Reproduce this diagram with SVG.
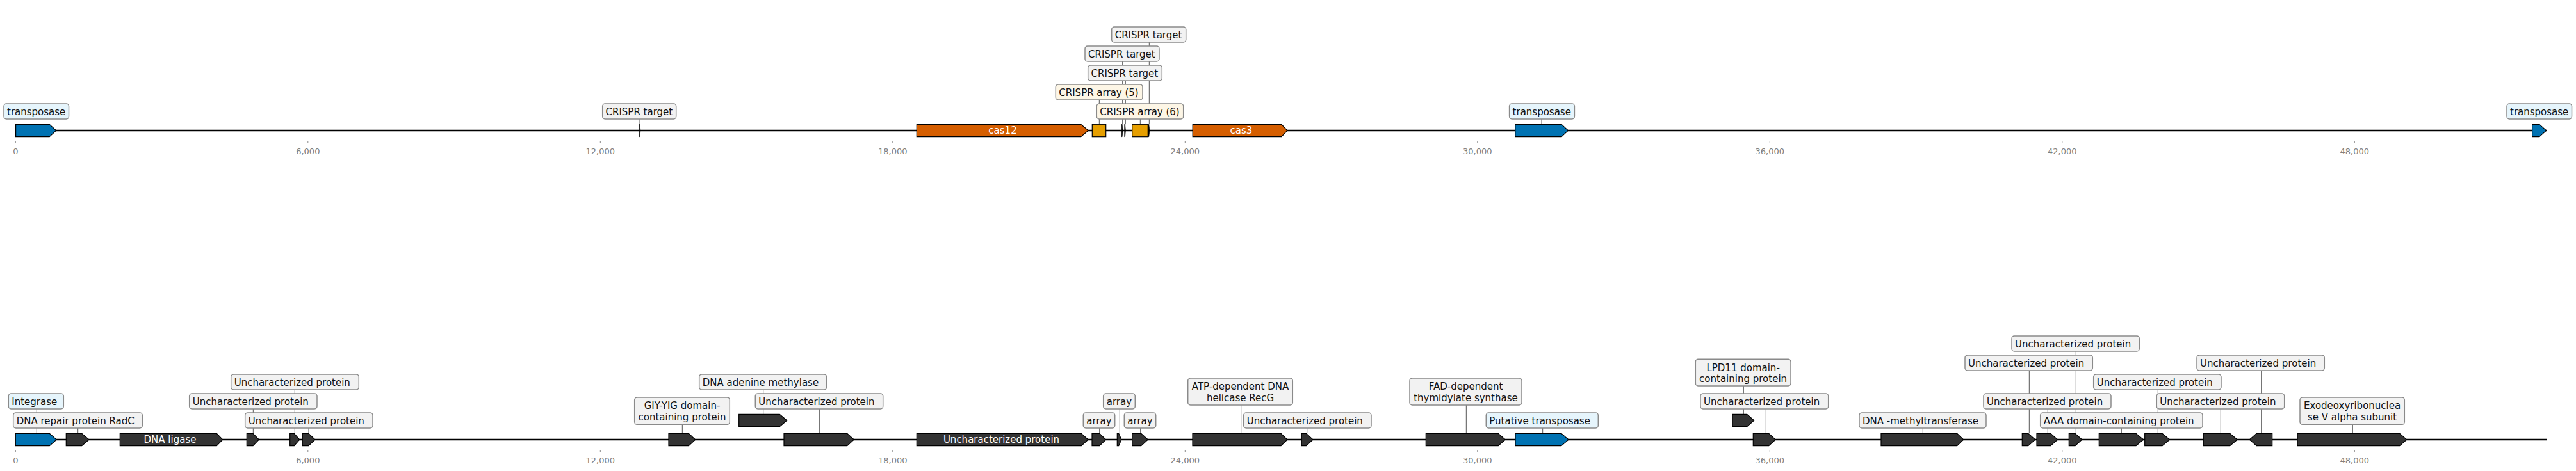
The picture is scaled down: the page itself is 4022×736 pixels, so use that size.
<svg xmlns="http://www.w3.org/2000/svg" width="4022" height="736" viewBox="0 0 4022 736">
<style>
.bg{fill:#fff}
.trk{stroke:#000;stroke-width:2.5;fill:none}
.tick{stroke:#888;stroke-width:1}
.tl{font-family:'DejaVu Sans',sans-serif;font-size:13px;fill:#808080;text-anchor:middle}
.ld{stroke:#555;stroke-width:1;fill:none}
.g{stroke:#000;stroke-width:1.2;stroke-linejoin:miter}
.dk{fill:#333}
.bl{fill:#0072b2}
.or{fill:#d55e00}
.au{fill:#e69f00}
.tg{fill:#000;stroke:#000;stroke-width:0.6}
.bx{stroke:#8a8a8a;stroke-width:1.5}
.gy{fill:#f2f2f2}
.lb{fill:#e6f5fc}
.cr{fill:#fdf6e6}
.t{font-family:'DejaVu Sans',sans-serif;font-size:15px;fill:#111}
.tc{text-anchor:middle}
.wt{font-family:'DejaVu Sans',sans-serif;font-size:15px;fill:#fff;text-anchor:middle}
</style>
<rect class="bg" x="0" y="0" width="4022" height="736"/>
<g id="axes">
<line class="trk" x1="24.5" y1="204" x2="3976.5" y2="204"/>
<line class="trk" x1="24.3" y1="687" x2="3976.5" y2="687"/>
<g id="ticks-top">
<line class="tick" x1="24.3" y1="220" x2="24.3" y2="224"/><text class="tl" x="24.3" y="241">0</text>
<line class="tick" x1="480.8" y1="220" x2="480.8" y2="224"/><text class="tl" x="480.8" y="241">6,000</text>
<line class="tick" x1="937.3" y1="220" x2="937.3" y2="224"/><text class="tl" x="937.3" y="241">12,000</text>
<line class="tick" x1="1393.8" y1="220" x2="1393.8" y2="224"/><text class="tl" x="1393.8" y="241">18,000</text>
<line class="tick" x1="1850.3" y1="220" x2="1850.3" y2="224"/><text class="tl" x="1850.3" y="241">24,000</text>
<line class="tick" x1="2306.8" y1="220" x2="2306.8" y2="224"/><text class="tl" x="2306.8" y="241">30,000</text>
<line class="tick" x1="2763.3" y1="220" x2="2763.3" y2="224"/><text class="tl" x="2763.3" y="241">36,000</text>
<line class="tick" x1="3219.8" y1="220" x2="3219.8" y2="224"/><text class="tl" x="3219.8" y="241">42,000</text>
<line class="tick" x1="3676.3" y1="220" x2="3676.3" y2="224"/><text class="tl" x="3676.3" y="241">48,000</text>
</g>
<g id="ticks-bottom">
<line class="tick" x1="24.3" y1="703" x2="24.3" y2="707"/><text class="tl" x="24.3" y="724">0</text>
<line class="tick" x1="480.8" y1="703" x2="480.8" y2="707"/><text class="tl" x="480.8" y="724">6,000</text>
<line class="tick" x1="937.3" y1="703" x2="937.3" y2="707"/><text class="tl" x="937.3" y="724">12,000</text>
<line class="tick" x1="1393.8" y1="703" x2="1393.8" y2="707"/><text class="tl" x="1393.8" y="724">18,000</text>
<line class="tick" x1="1850.3" y1="703" x2="1850.3" y2="707"/><text class="tl" x="1850.3" y="724">24,000</text>
<line class="tick" x1="2306.8" y1="703" x2="2306.8" y2="707"/><text class="tl" x="2306.8" y="724">30,000</text>
<line class="tick" x1="2763.3" y1="703" x2="2763.3" y2="707"/><text class="tl" x="2763.3" y="724">36,000</text>
<line class="tick" x1="3219.8" y1="703" x2="3219.8" y2="707"/><text class="tl" x="3219.8" y="724">42,000</text>
<line class="tick" x1="3676.3" y1="703" x2="3676.3" y2="707"/><text class="tl" x="3676.3" y="724">48,000</text>
</g>
</g>
<g id="connectors">
<line class="ld" x1="57.5" y1="186" x2="57.5" y2="194.3"/>
<line class="ld" x1="999" y1="186" x2="999" y2="194.3"/>
<line class="ld" x1="1716.3" y1="156" x2="1716.3" y2="194.3"/>
<line class="ld" x1="1780.3" y1="186" x2="1780.3" y2="194.3"/>
<line class="ld" x1="1757.3" y1="126" x2="1757.3" y2="194.3"/>
<line class="ld" x1="1752.7" y1="96" x2="1752.7" y2="194.3"/>
<line class="ld" x1="1794.3" y1="66" x2="1794.3" y2="194.3"/>
<line class="ld" x1="2407" y1="186" x2="2407" y2="194.3"/>
<line class="ld" x1="3964.5" y1="186" x2="3964.5" y2="194.3"/>
<line class="ld" x1="57.3" y1="639" x2="57.3" y2="677.3"/>
<line class="ld" x1="121.7" y1="669" x2="121.7" y2="677.3"/>
<line class="ld" x1="460.3" y1="609" x2="460.3" y2="677.3"/>
<line class="ld" x1="395.3" y1="639" x2="395.3" y2="677.3"/>
<line class="ld" x1="482" y1="669" x2="482" y2="677.3"/>
<line class="ld" x1="1065.3" y1="663" x2="1065.3" y2="677.3"/>
<line class="ld" x1="1191.7" y1="609" x2="1191.7" y2="647.3"/>
<line class="ld" x1="1279.3" y1="639" x2="1279.3" y2="677.3"/>
<line class="ld" x1="1716.7" y1="669" x2="1716.7" y2="677.3"/>
<line class="ld" x1="1748.3" y1="639" x2="1748.3" y2="677.3"/>
<line class="ld" x1="1780.7" y1="669" x2="1780.7" y2="677.3"/>
<line class="ld" x1="1937.7" y1="633" x2="1937.7" y2="677.3"/>
<line class="ld" x1="2042.3" y1="669" x2="2042.3" y2="677.3"/>
<line class="ld" x1="2289.3" y1="633" x2="2289.3" y2="677.3"/>
<line class="ld" x1="2408.7" y1="669" x2="2408.7" y2="677.3"/>
<line class="ld" x1="2722.3" y1="603" x2="2722.3" y2="647.3"/>
<line class="ld" x1="2755.7" y1="639" x2="2755.7" y2="677.3"/>
<line class="ld" x1="3002.3" y1="669" x2="3002.3" y2="677.3"/>
<line class="ld" x1="3168.3" y1="579" x2="3168.3" y2="677.3"/>
<line class="ld" x1="3197.3" y1="639" x2="3197.3" y2="677.3"/>
<line class="ld" x1="3241.3" y1="549" x2="3241.3" y2="677.3"/>
<line class="ld" x1="3312.3" y1="669" x2="3312.3" y2="677.3"/>
<line class="ld" x1="3369.3" y1="609" x2="3369.3" y2="677.3"/>
<line class="ld" x1="3467.3" y1="639" x2="3467.3" y2="677.3"/>
<line class="ld" x1="3530.7" y1="579" x2="3530.7" y2="677.3"/>
<line class="ld" x1="3673.3" y1="663" x2="3673.3" y2="677.3"/>
</g>
<g id="top-track">
<g id="t-transposase-1"><polygon class="g bl" points="24.6,194.3 77.2,194.3 87.7,204 77.2,213.7 24.6,213.7"/><rect class="bx lb" x="6" y="162" width="101.5" height="24" rx="4"/><text class="t" x="11" y="180.3">transposase</text></g>
<g id="t-target-1"><polygon class="tg" points="998.4,194.3 999,194.3 999.9,204 999,213.7 998.4,213.7"/><rect class="bx gy" x="940.7" y="162" width="115" height="24" rx="4"/><text class="t" x="945.5" y="180.3">CRISPR target</text></g>
<g id="t-cas12"><polygon class="g or" points="1431.3,194.3 1687.7,194.3 1699.3,204 1687.7,213.7 1431.3,213.7"/><text class="wt" x="1565.5" y="209.4">cas12</text></g>
<g id="t-array-5"><rect class="g au" x="1705.3" y="194.3" width="21.4" height="19.4"/><rect class="bx cr" x="1648.3" y="132" width="135.7" height="24" rx="4"/><text class="t" x="1653.3" y="150.3">CRISPR array (5)</text></g>
<g id="t-target-2"><polygon class="tg" points="1751.3,194.3 1752.1,194.3 1753.1,204 1752.1,213.7 1751.3,213.7"/><rect class="bx gy" x="1694" y="72" width="116" height="24" rx="4"/><text class="t" x="1699" y="90.3">CRISPR target</text></g>
<g id="t-target-3"><polygon class="tg" points="1755.7,194.3 1756.5,194.3 1757.5,204 1756.5,213.7 1755.7,213.7"/><rect class="bx gy" x="1698.7" y="102" width="115.6" height="24" rx="4"/><text class="t" x="1703.5" y="120.3">CRISPR target</text></g>
<g id="t-array-6"><rect class="g au" x="1767.7" y="194.3" width="24.6" height="19.4"/><rect class="bx cr" x="1712.3" y="162" width="135.4" height="24" rx="4"/><text class="t" x="1717.3" y="180.3">CRISPR array (6)</text></g>
<g id="t-target-4"><polygon class="tg" points="1792.8,194.3 1793.8,194.3 1795,204 1793.8,213.7 1792.8,213.7"/><rect class="bx gy" x="1735.7" y="42" width="116" height="24" rx="4"/><text class="t" x="1740.7" y="60.3">CRISPR target</text></g>
<g id="t-cas3"><polygon class="g or" points="1862.2,194.3 2000.8,194.3 2010,204 2000.8,213.7 1862.2,213.7"/><text class="wt" x="1938" y="209.4">cas3</text></g>
<g id="t-transposase-2"><polygon class="g bl" points="2365.8,194.3 2438,194.3 2448.4,204 2438,213.7 2365.8,213.7"/><rect class="bx lb" x="2356.6" y="162" width="101.8" height="24" rx="4"/><text class="t" x="2361.6" y="180.3">transposase</text></g>
<g id="t-transposase-3"><polygon class="g bl" points="3953.6,194.3 3964.8,194.3 3975.6,204 3964.8,213.7 3953.6,213.7"/><rect class="bx lb" x="3914" y="162" width="101.5" height="24" rx="4"/><text class="t" x="3919" y="180.3">transposase</text></g>
</g>
<g id="bottom-track">
<g id="b-integrase"><polygon class="g bl" points="24.3,677.3 77.3,677.3 88.3,687 77.3,696.7 24.3,696.7"/><rect class="bx lb" x="13.3" y="615" width="86" height="24" rx="4"/><text class="t" x="18.3" y="633.3">Integrase</text></g>
<g id="b-radc"><polygon class="g dk" points="103.3,677.3 127.7,677.3 139,687 127.7,696.7 103.3,696.7"/><rect class="bx gy" x="20.7" y="645" width="201.6" height="24" rx="4"/><text class="t" x="25.7" y="663.3">DNA repair protein RadC</text></g>
<g id="b-ligase"><polygon class="g dk" points="187.3,677.3 338.3,677.3 347.7,687 338.3,696.7 187.3,696.7"/><text class="wt" x="265.5" y="692.4">DNA ligase</text></g>
<g id="b-unc-1"><polygon class="g dk" points="385.3,677.3 395,677.3 404.3,687 395,696.7 385.3,696.7"/><rect class="bx gy" x="295.7" y="615" width="199.3" height="24" rx="4"/><text class="t" x="300.7" y="633.3">Uncharacterized protein</text></g>
<g id="b-unc-2"><polygon class="g dk" points="452.7,677.3 459.3,677.3 467.7,687 459.3,696.7 452.7,696.7"/><rect class="bx gy" x="360.7" y="585" width="199.6" height="24" rx="4"/><text class="t" x="365.7" y="603.3">Uncharacterized protein</text></g>
<g id="b-unc-3"><polygon class="g dk" points="472.3,677.3 481.7,677.3 492,687 481.7,696.7 472.3,696.7"/><rect class="bx gy" x="382.7" y="645" width="199.3" height="24" rx="4"/><text class="t" x="387.7" y="663.3">Uncharacterized protein</text></g>
<g id="b-giy"><polygon class="g dk" points="1044,677.3 1075.3,677.3 1085.7,687 1075.3,696.7 1044,696.7"/><rect class="bx gy" x="990.7" y="621" width="148.6" height="42.3" rx="4"/><text class="t tc" x="1065" y="639.3">GIY-YIG domain-</text><text class="t tc" x="1065" y="656.6">containing protein</text></g>
<g id="b-dam"><polygon class="g dk" points="1153.7,647.3 1217.3,647.3 1228.7,657 1217.3,666.7 1153.7,666.7"/><rect class="bx gy" x="1091.7" y="585" width="199" height="24" rx="4"/><text class="t" x="1096.7" y="603.3">DNA adenine methylase</text></g>
<g id="b-unc-4"><polygon class="g dk" points="1224,677.3 1322.7,677.3 1333.3,687 1322.7,696.7 1224,696.7"/><rect class="bx gy" x="1179.3" y="615" width="199.4" height="24" rx="4"/><text class="t" x="1184.3" y="633.3">Uncharacterized protein</text></g>
<g id="b-unc-5"><polygon class="g dk" points="1431.3,677.3 1688.3,677.3 1699,687 1688.3,696.7 1431.3,696.7"/><text class="wt" x="1563.5" y="692.4">Uncharacterized protein</text></g>
<g id="b-array-1"><polygon class="g dk" points="1705,677.3 1716.7,677.3 1726.7,687 1716.7,696.7 1705,696.7"/><rect class="bx gy" x="1691.3" y="645" width="49.4" height="24" rx="4"/><text class="t" x="1696.3" y="663.3">array</text></g>
<g id="b-array-2"><polygon class="g dk" points="1744.3,677.3 1746.7,677.3 1751,687 1746.7,696.7 1744.3,696.7"/><rect class="bx gy" x="1722.7" y="615" width="49.6" height="24" rx="4"/><text class="t" x="1727.7" y="633.3">array</text></g>
<g id="b-array-3"><polygon class="g dk" points="1767.7,677.3 1781.7,677.3 1792.3,687 1781.7,696.7 1767.7,696.7"/><rect class="bx gy" x="1755.3" y="645" width="49.4" height="24" rx="4"/><text class="t" x="1760.3" y="663.3">array</text></g>
<g id="b-recg"><polygon class="g dk" points="1862,677.3 2000,677.3 2010,687 2000,696.7 1862,696.7"/><rect class="bx gy" x="1854.7" y="591" width="163.6" height="42" rx="4"/><text class="t tc" x="1936.5" y="609.3">ATP-dependent DNA</text><text class="t tc" x="1936.5" y="626.6">helicase RecG</text></g>
<g id="b-unc-6"><polygon class="g dk" points="2032.3,677.3 2039.5,677.3 2050,687 2039.5,696.7 2032.3,696.7"/><rect class="bx gy" x="1941.7" y="645" width="199.3" height="24" rx="4"/><text class="t" x="1946.7" y="663.3">Uncharacterized protein</text></g>
<g id="b-fad"><polygon class="g dk" points="2226.3,677.3 2339.3,677.3 2350.3,687 2339.3,696.7 2226.3,696.7"/><rect class="bx gy" x="2201" y="591" width="175" height="42" rx="4"/><text class="t tc" x="2288.5" y="609.3">FAD-dependent</text><text class="t tc" x="2288.5" y="626.6">thymidylate synthase</text></g>
<g id="b-transposase"><polygon class="g bl" points="2366,677.3 2437.7,677.3 2449,687 2437.7,696.7 2366,696.7"/><rect class="bx lb" x="2320.3" y="645" width="175" height="24" rx="4"/><text class="t" x="2325.3" y="663.3">Putative transposase</text></g>
<g id="b-lpd11"><polygon class="g dk" points="2705,647.3 2727.7,647.3 2738.7,657 2727.7,666.7 2705,666.7"/><rect class="bx gy" x="2647.3" y="561.3" width="148.7" height="41.7" rx="4"/><text class="t tc" x="2721.6" y="579.6">LPD11 domain-</text><text class="t tc" x="2721.6" y="596.9">containing protein</text></g>
<g id="b-unc-7"><polygon class="g dk" points="2737.3,677.3 2761.7,677.3 2772.3,687 2761.7,696.7 2737.3,696.7"/><rect class="bx gy" x="2655" y="615" width="199.7" height="24" rx="4"/><text class="t" x="2660" y="633.3">Uncharacterized protein</text></g>
<g id="b-mtase"><polygon class="g dk" points="2937,677.3 3055.7,677.3 3065.7,687 3055.7,696.7 2937,696.7"/><rect class="bx gy" x="2903" y="645" width="198" height="24" rx="4"/><text class="t" x="2908" y="663.3">DNA -methyltransferase</text></g>
<g id="b-unc-8"><polygon class="g dk" points="3157.3,677.3 3166.7,677.3 3177.7,687 3166.7,696.7 3157.3,696.7"/><rect class="bx gy" x="3068" y="555" width="199.3" height="24" rx="4"/><text class="t" x="3073" y="573.3">Uncharacterized protein</text></g>
<g id="b-unc-9"><polygon class="g dk" points="3180,677.3 3201.7,677.3 3212.7,687 3201.7,696.7 3180,696.7"/><rect class="bx gy" x="3097" y="615" width="199" height="24" rx="4"/><text class="t" x="3102" y="633.3">Uncharacterized protein</text></g>
<g id="b-unc-10"><polygon class="g dk" points="3230.3,677.3 3240,677.3 3250.7,687 3240,696.7 3230.3,696.7"/><rect class="bx gy" x="3141" y="525" width="199.3" height="24" rx="4"/><text class="t" x="3146" y="543.3">Uncharacterized protein</text></g>
<g id="b-aaa"><polygon class="g dk" points="3277.3,677.3 3335,677.3 3346.7,687 3335,696.7 3277.3,696.7"/><rect class="bx gy" x="3185.7" y="645" width="253.3" height="24" rx="4"/><text class="t" x="3190.7" y="663.3">AAA domain-containing protein</text></g>
<g id="b-unc-11"><polygon class="g dk" points="3348.7,677.3 3376,677.3 3387.7,687 3376,696.7 3348.7,696.7"/><rect class="bx gy" x="3268.7" y="585" width="199.3" height="24" rx="4"/><text class="t" x="3273.7" y="603.3">Uncharacterized protein</text></g>
<g id="b-unc-12"><polygon class="g dk" points="3440.3,677.3 3481.7,677.3 3493.3,687 3481.7,696.7 3440.3,696.7"/><rect class="bx gy" x="3367.3" y="615" width="199.4" height="24" rx="4"/><text class="t" x="3372.3" y="633.3">Uncharacterized protein</text></g>
<g id="b-unc-13"><polygon class="g dk" points="3512.3,687 3523.3,677.3 3547.7,677.3 3547.7,696.7 3523.3,696.7"/><rect class="bx gy" x="3430" y="555" width="199.3" height="24" rx="4"/><text class="t" x="3435" y="573.3">Uncharacterized protein</text></g>
<g id="b-exo"><polygon class="g dk" points="3587,677.3 3746.7,677.3 3757.7,687 3746.7,696.7 3587,696.7"/><rect class="bx gy" x="3591" y="621" width="163.3" height="42.3" rx="4"/><text class="t tc" x="3672.6" y="639.3">Exodeoxyribonuclea</text><text class="t tc" x="3672.6" y="656.6">se V alpha subunit</text></g>
</g>
</svg>
